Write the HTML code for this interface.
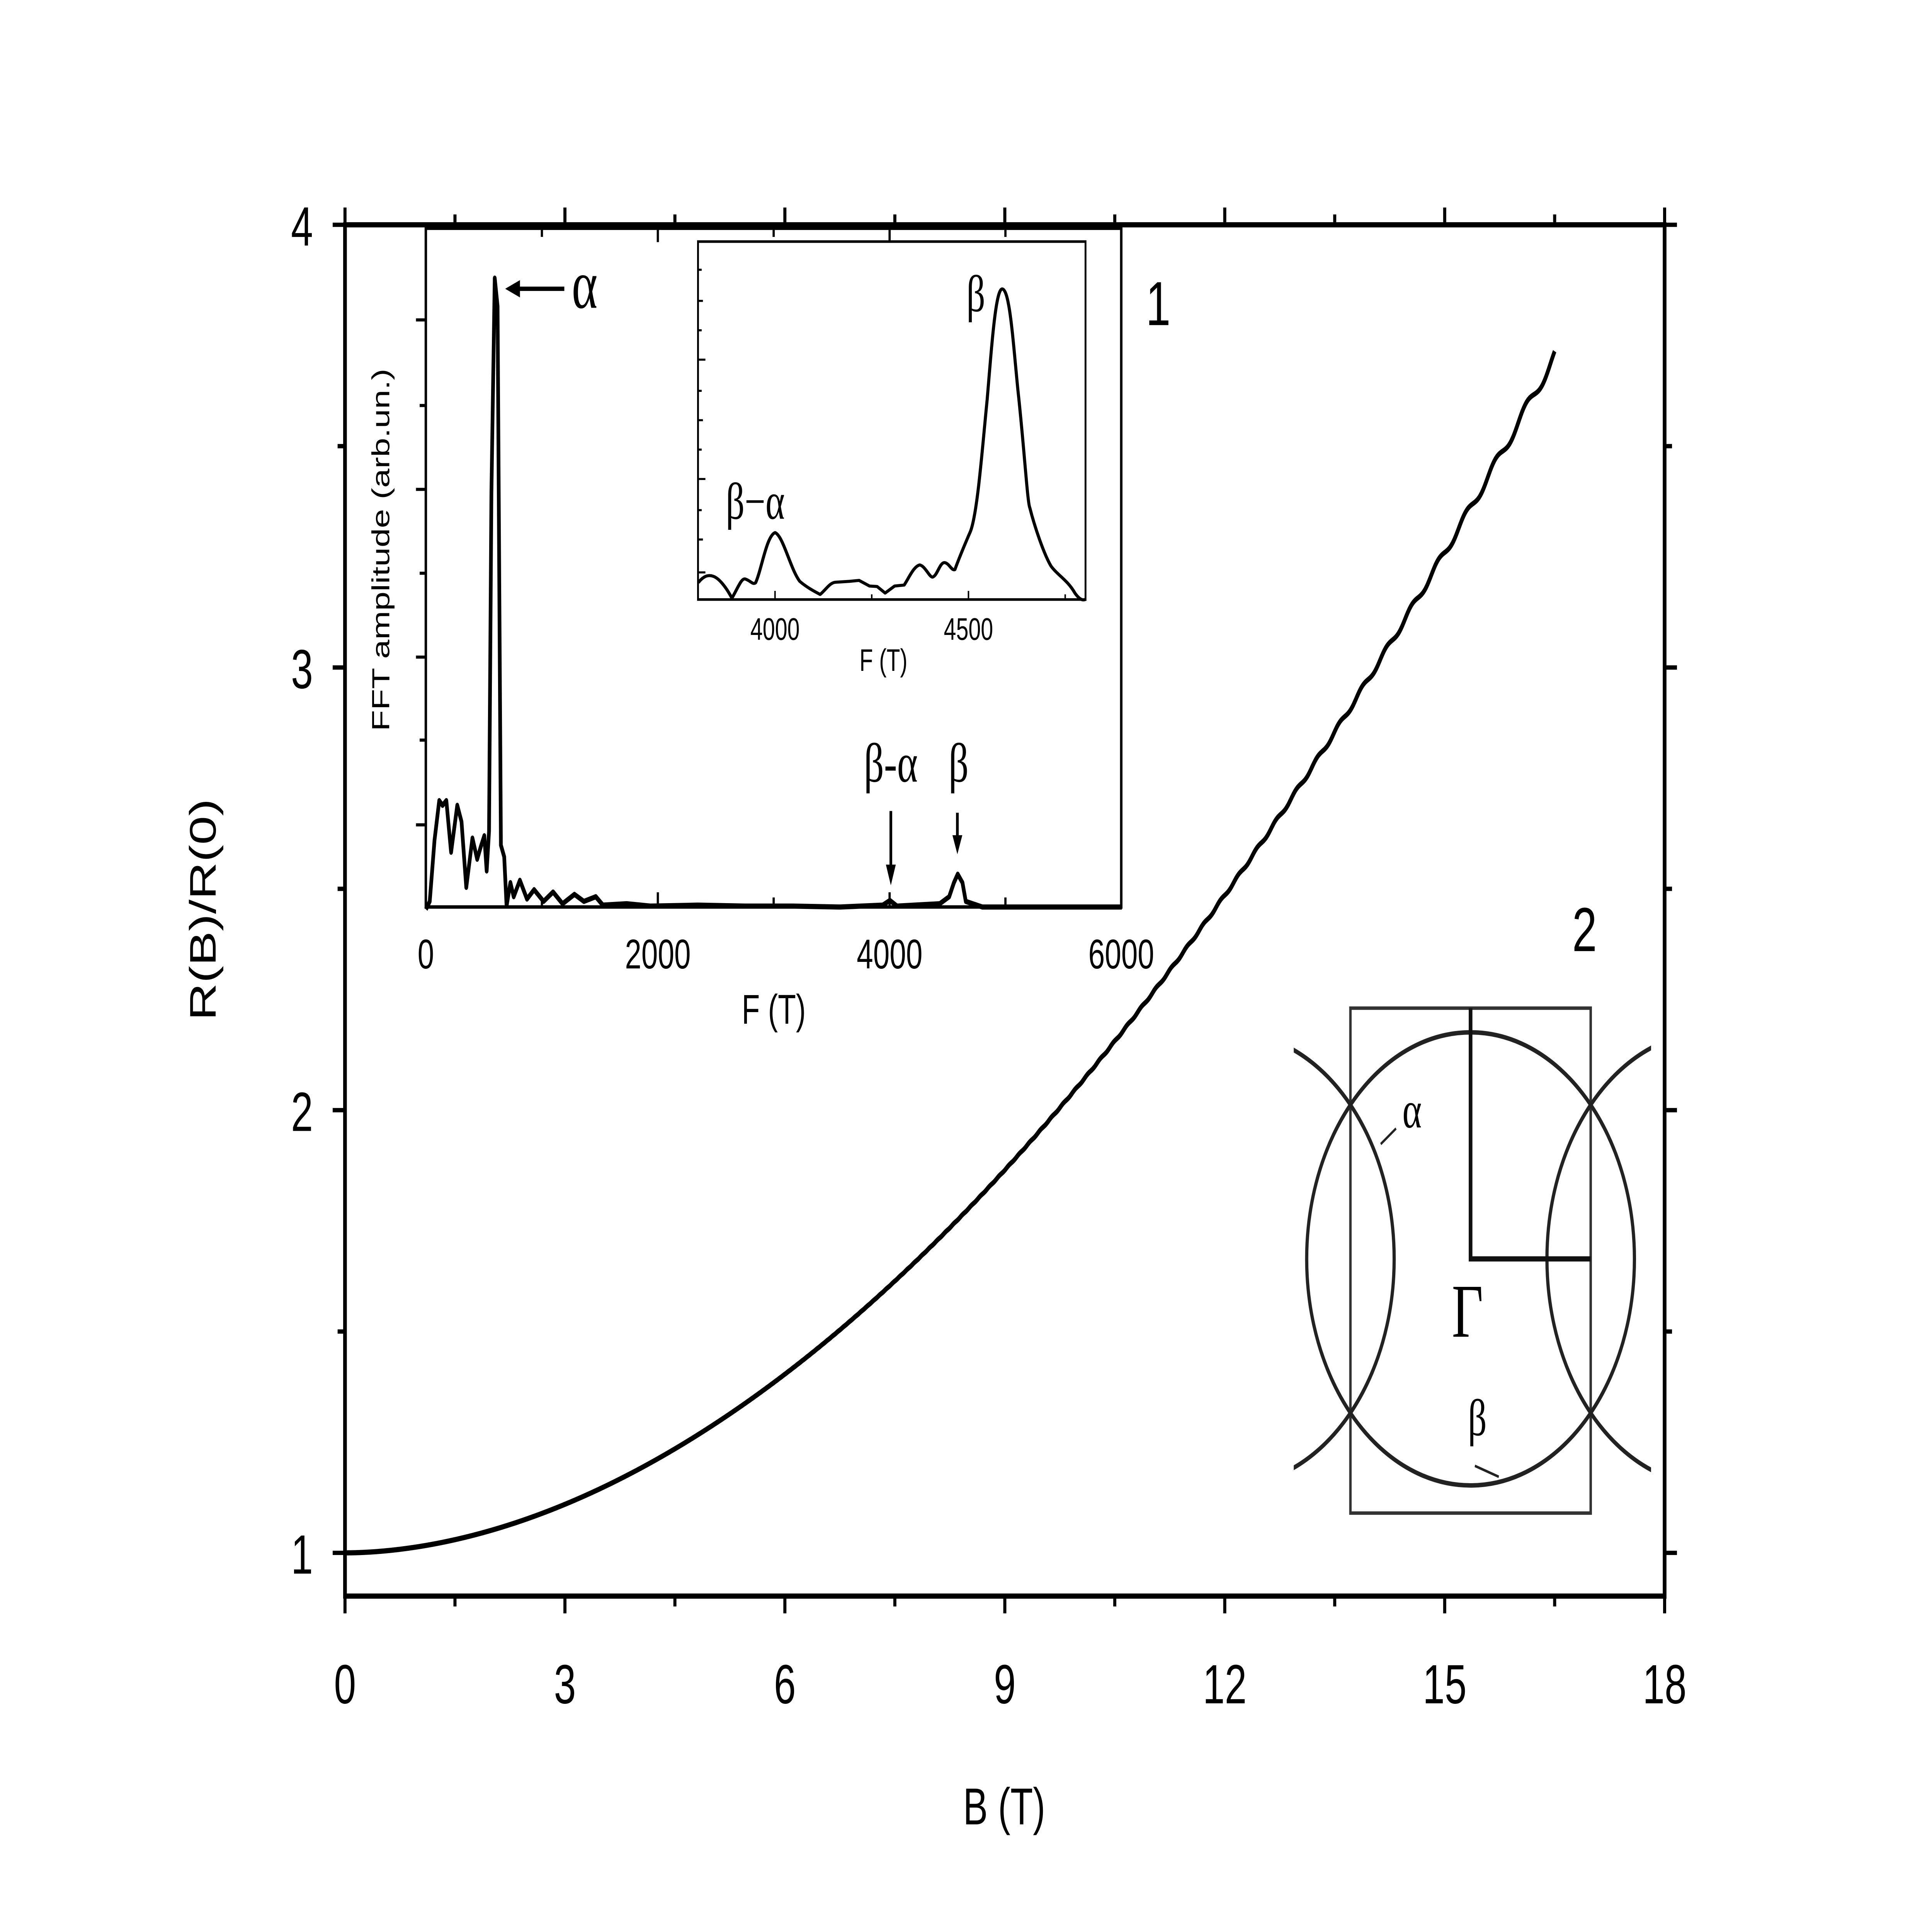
<!DOCTYPE html>
<html><head><meta charset="utf-8"><style>
html,body{margin:0;padding:0;background:#fff;width:100%;height:100%;overflow:hidden}
svg{display:block;width:100vw;height:100vh}
text{font-family:"Liberation Sans",sans-serif;fill:#000}
.s{font-family:"Liberation Serif",serif}
</style></head><body>
<svg id="sv" viewBox="0 0 1568 1108" preserveAspectRatio="none" xmlns="http://www.w3.org/2000/svg">
<rect width="1568" height="1108" fill="#fff"/>
<rect x="280" y="130" width="1071" height="793" fill="none" stroke="#000" stroke-width="3"/>
<g id="ticks" stroke="#000" stroke-width="2.5"></g>
<g font-size="32" text-anchor="middle">
<text x="280" y="985">0</text><text x="458.5" y="985">3</text><text x="637" y="985">6</text>
<text x="815.5" y="985">9</text><text x="994" y="985">12</text><text x="1172.5" y="985">15</text><text x="1351" y="985">18</text>
</g>
<g font-size="32" text-anchor="end">
<text x="254" y="910">1</text><text x="254" y="654">2</text><text x="254" y="398">3</text><text x="254" y="142">4</text>
</g>
<text x="815" y="1055" font-size="30" text-anchor="middle">B (T)</text>
<text transform="translate(175,526) rotate(-90)" font-size="30" text-anchor="middle">R(B)/R(0)</text>
<path id="mc" d="" fill="none" stroke="#000" stroke-width="3"/>
<text x="930" y="188" font-size="36">1</text>
<text x="1276" y="550" font-size="36">2</text>

<rect x="345.6" y="132" width="564.4" height="392.5" fill="#fff" stroke="#000" stroke-width="2"/>
<g stroke="#000" stroke-width="1.8">
<path d="M345.6,524v-8M439.8,524v-5M533.9,524v-8M627.9,524v-5M722,524v-8M816,524v-5M910,524v-8"/>
<path d="M345.6,132v8M439.8,132v5M533.9,132v8M627.9,132v5M722,132v8M816,132v5"/>
<path d="M345.6,185h-8M345.6,234.5h-5M345.6,283h-8M345.6,331.5h-5M345.6,380h-8M345.6,428h-5M345.6,477h-8"/>
</g>
<g font-size="24" text-anchor="middle">
<text x="345.6" y="560">0</text><text x="533.9" y="560">2000</text><text x="722" y="560">4000</text><text x="910" y="560">6000</text>
</g>
<text x="628" y="592" font-size="24" text-anchor="middle">F (T)</text>
<text transform="translate(316,318) rotate(-90)" font-size="20" text-anchor="middle">FFT amplitude (arb.un.)</text>
<path id="p1" fill="none" stroke="#000" stroke-width="3" stroke-linejoin="round" d=""/>
<path d="M418,167 H458" stroke="#000" stroke-width="2.5"/>
<path d="M410,167 l12,-5 v10z" fill="#000"/>
<text x="464" y="178" class="s" font-size="40">α</text>
<path d="M723,469 V505" stroke="#000" stroke-width="2.2"/><path d="M723,512 l-4,-12 h8z" fill="#000"/>
<path d="M777,470 V488" stroke="#000" stroke-width="2.2"/><path d="M777,494 l-4,-11 h8z" fill="#000"/>
<text x="723" y="452" class="s" font-size="32" text-anchor="middle">β-α</text>
<text x="778" y="452" class="s" font-size="32" text-anchor="middle">β</text>

<rect x="566.5" y="139.7" width="314.5" height="207" fill="#fff" stroke="#000" stroke-width="1.5"/>
<g stroke="#000" stroke-width="1.2">
<path d="M566.5,174h4M566.5,208h6M566.5,243h4M566.5,277h6M566.5,312h4M566.5,331h6"/>
<path d="M566.5,191h3M566.5,226h3M566.5,260h3M566.5,295h3M566.5,156h3"/>
<path d="M629,346.7v-5M707.5,346.7v-3M786,346.7v-5M864.5,346.7v-3"/>
</g>
<g font-size="18" text-anchor="middle">
<text x="629" y="370">4000</text><text x="786" y="370">4500</text>
</g>
<text x="717" y="388" font-size="18" text-anchor="middle">F (T)</text>
<g transform="matrix(0.385,0,0,0.271,335.3,122.9)">
<path fill="none" stroke="#000" stroke-width="6.5" stroke-linejoin="round" d="M601,790 C610,778 620,772 632,776 C645,780 660,800 672,823 C685,800 692,780 700,782 C712,786 716,795 722,790 C735,760 745,690 763,683 C780,690 795,760 815,787 C830,800 845,808 858,815 C870,805 878,790 890,789 L920,787 L940,785 L962,797 L978,798 L995,812 L1015,797 L1035,795 C1045,780 1055,755 1068,752 C1080,755 1088,778 1095,778 C1105,775 1110,747 1120,747 C1130,748 1135,765 1142,762 C1150,740 1160,715 1175,680 C1190,640 1200,500 1210,400 C1220,280 1228,163 1242,163 C1258,165 1265,280 1275,380 C1288,500 1295,620 1300,630 C1310,670 1330,730 1345,755 C1360,775 1380,785 1395,812 C1402,822 1410,830 1418,825"/>
</g>
<text x="613" y="300" class="s" font-size="30" text-anchor="middle">β−α</text>
<text x="792" y="180" class="s" font-size="30" text-anchor="middle">β</text>

<defs><clipPath id="cp"><rect x="1050" y="560" width="290" height="320"/></clipPath></defs>
<rect x="1096" y="583" width="195" height="292" fill="none" stroke="#333" stroke-width="2"/>
<g clip-path="url(#cp)" fill="none" stroke="#222" stroke-width="2.6">
<ellipse cx="1193.5" cy="728" rx="133" ry="131"/>
<ellipse cx="998.5" cy="728" rx="133" ry="131"/>
<ellipse cx="1388.5" cy="728" rx="133" ry="131"/>
</g>
<path d="M1193.5,583 V728 H1291" fill="none" stroke="#111" stroke-width="3"/>
<text x="1191" y="773" class="s" font-size="44" text-anchor="middle">Γ</text>
<text x="1146" y="652" class="s" font-size="30" text-anchor="middle">α</text>
<path d="M1133,652.6 L1120.6,661.6" stroke="#222" stroke-width="1.5"/>
<text x="1199" y="830" class="s" font-size="30" text-anchor="middle">β</text>
<path d="M1197,847.7 L1216.4,854" stroke="#222" stroke-width="1.5"/>
</svg>
<script>
(function(){
var ns="http://www.w3.org/2000/svg";
var X=function(b){return 280+b*59.5;},Y=function(r){return 898-(r-1)*256;};
var d="";
for(var i=0;i<=3300;i++){var b=i*0.005;var r=1+0.0139*Math.pow(b,1.88);
 var amp=1.2e-8*Math.pow(b,5);
 if(b>0.5) r+=amp*Math.sin(2*Math.PI*600/b);
 d+=(i?"L":"M")+X(b).toFixed(2)+","+Y(r).toFixed(2);}
document.getElementById("mc").setAttribute("d",d);
var pts=[[27,1487],[35,1470],[45,1340],[55,1255],[62,1265],[70,1255],[80,1365],[93,1265],[102,1300],[112,1440],[125,1335],[135,1380],[143,1352],[150,1330],[155,1405],[160,1320],[165,600],[172,140],[178,200],[185,1350],[192,1375],[197,1480],[205,1430],[212,1460],[225,1425],[240,1465],[255,1445],[275,1470],[295,1450],[315,1475],[340,1455],[360,1470],[385,1460],[400,1478],[450,1475],[500,1480],[600,1478],[700,1480],[800,1480],[900,1482],[990,1478],[1005,1468],[1020,1480],[1110,1475],[1130,1460],[1140,1430],[1148,1412],[1158,1430],[1165,1470],[1200,1482],[1494,1482]];
var q="";pts.forEach(function(p,i){q+=(i?"L":"M")+(335.3+0.385*p[0]).toFixed(2)+","+(122.9+0.271*p[1]).toFixed(2);});
document.getElementById("p1").setAttribute("d",q);
var t="";
for(var k=0;k<=12;k++){var x=280+k*89.25;var L=(k%2==0)?10:6;t+="M"+x+",923v"+L+"M"+x+",130v-"+L;}
for(var k=0;k<=6;k++){var y=898-k*128;var L=(k%2==0)?10:6;t+="M280,"+y+"h-"+L+"M1351,"+y+"h"+L;}
var p=document.createElementNS(ns,"path");p.setAttribute("d",t);
document.getElementById("ticks").appendChild(p);
})();
</script>
</body></html>
